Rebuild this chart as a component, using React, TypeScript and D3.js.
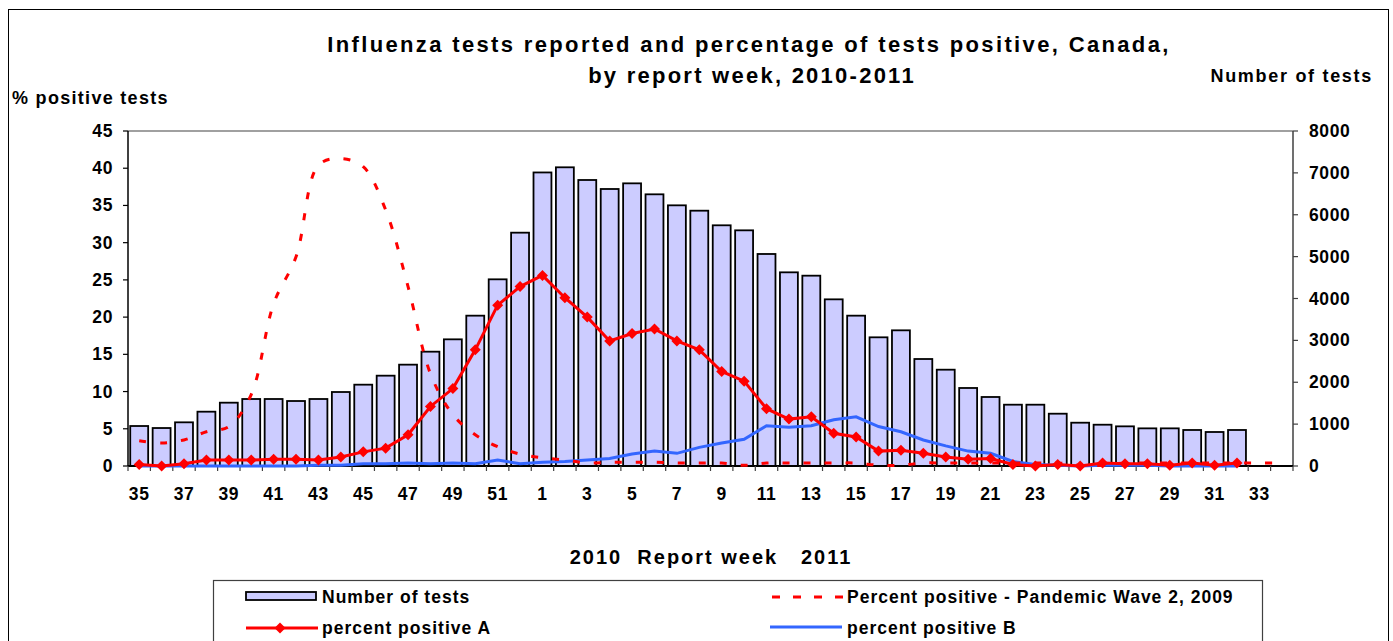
import React, { Component } from "react";
import * as d3 from "d3";

// report weeks, 2010 (35-52) then 2011 (1-34)
const weeks = ["35", "36", "37", "38", "39", "40", "41", "42", "43", "44", "45", "46", "47", "48", "49", "50", "51", "52",
  "1", "2", "3", "4", "5", "6", "7", "8", "9", "10", "11", "12", "13", "14", "15", "16", "17", "18", "19", "20",
  "21", "22", "23", "24", "25", "26", "27", "28", "29", "30", "31", "32", "33", "34"];

// number of tests, weeks 35 .. 32
const numTests = [955, 907, 1043, 1297, 1512, 1600, 1600, 1552, 1600, 1767, 1942, 2157, 2420, 2730, 3025, 3590, 4458, 5572,
  7010, 7133, 6830, 6615, 6750, 6488, 6225, 6097, 5748, 5628, 5063, 4625, 4545, 3980, 3590, 3073, 3240, 2555,
  2300, 1863, 1648, 1464, 1464, 1249, 1034, 986, 947, 899, 899, 860, 812, 860];

// percent positive A, weeks 35 .. 32
const pctA = [0.2, 0.0, 0.3, 0.8, 0.8, 0.8, 0.9, 0.9, 0.8, 1.2, 1.9, 2.4, 4.2, 8.0, 10.4, 15.6, 21.6, 24.1,
  25.6, 22.6, 20.0, 16.8, 17.8, 18.4, 16.8, 15.6, 12.7, 11.4, 7.7, 6.3, 6.6, 4.4, 3.9, 2.0, 2.1, 1.7,
  1.2, 0.9, 1.0, 0.2, 0.0, 0.2, 0.0, 0.4, 0.3, 0.3, 0.1, 0.4, 0.1, 0.4];

// percent positive B, weeks 35 .. 32
const pctB = [0.0, 0.0, 0.0, 0.0, 0.0, 0.0, 0.0, 0.0, 0.1, 0.1, 0.3, 0.3, 0.4, 0.3, 0.4, 0.3, 0.8, 0.3,
  0.5, 0.6, 0.8, 1.0, 1.6, 2.0, 1.7, 2.5, 3.1, 3.6, 5.4, 5.2, 5.4, 6.2, 6.6, 5.3, 4.6, 3.5,
  2.7, 2.0, 1.7, 0.6, 0.2, 0.1, 0.0, 0.1, 0.1, 0.1, 0.0, 0.0, 0.0, 0.0];

// percent positive, pandemic wave 2 (2009), weeks 35 .. 34
const pctPandemic = [3.4, 3.1, 3.5, 4.6, 5.3, 9.6, 21.8, 28.1, 40.4, 41.3, 40.2, 34.4, 24.1, 12.4, 6.9, 4.2, 2.6, 1.6,
  1.1, 0.8, 0.4, 0.5, 0.5, 0.5, 0.4, 0.4, 0.4, 0.1, 0.4, 0.4, 0.4, 0.4, 0.4, 0.1, 0.1, 0.4,
  0.4, 0.4, 0.4, 0.4, 0.4, 0.4, 0.1, 0.1, 0.4, 0.4, 0.4, 0.4, 0.4, 0.4, 0.4, 0.4];

const leftTicks = [0, 5, 10, 15, 20, 25, 30, 35, 40, 45];
const rightTicks = [0, 1000, 2000, 3000, 4000, 5000, 6000, 7000, 8000];

const FONT = "'Liberation Sans', Arial, sans-serif";

class App extends Component {
  svgRef = React.createRef<SVGSVGElement>();

  componentDidMount() {
    this.renderChart();
  }

  renderChart() {
    const svg = d3.select(this.svgRef.current);
    svg.selectAll("*").remove();

    const left = 128, right = 1293, top = 131, bottom = 466;

    const x = d3.scaleBand().domain(weeks).range([left, right]).paddingInner(0.2).paddingOuter(0.1);
    const yL = d3.scaleLinear().domain([0, 45]).range([bottom, top]);
    const yR = d3.scaleLinear().domain([0, 8000]).range([bottom, top]);
    const cx = (i) => x(weeks[i]) + x.bandwidth() / 2;

    const txt = (g, s, xx, yy, size, anchor = "start", spacing = 1) =>
      g.append("text").attr("x", xx).attr("y", yy).attr("font-family", FONT).attr("font-weight", "bold")
        .attr("font-size", size).attr("letter-spacing", spacing).attr("text-anchor", anchor).attr("fill", "#000").text(s);

    // outer border
    svg.append("rect").attr("x", 8.5).attr("y", 9.5).attr("width", 1380).attr("height", 700)
      .attr("fill", "white").attr("stroke", "#000").attr("stroke-width", 1);

    // titles
    txt(svg, "Influenza tests reported and percentage of tests positive, Canada,", 749, 52, 22, "middle", 2.35);
    txt(svg, "by report week, 2010-2011", 752, 83, 22, "middle", 2.25);
    txt(svg, "% positive tests", 12, 104, 18, "start", 1.3);
    txt(svg, "Number of tests", 1373, 82, 18, "end", 1.7);

    // plot frame
    svg.append("line").attr("x1", left).attr("x2", right).attr("y1", top).attr("y2", top)
      .attr("stroke", "#808080").attr("stroke-width", 1.5);

    // bars
    svg.selectAll(".bar").data(numTests).join("rect").attr("class", "bar")
      .attr("x", (d, i) => x(weeks[i]))
      .attr("y", (d) => yR(d))
      .attr("width", x.bandwidth())
      .attr("height", (d) => bottom - yR(d))
      .attr("fill", "#CCCCFF").attr("stroke", "#000").attr("stroke-width", 1.8);

    // left axis
    svg.append("line").attr("x1", left).attr("x2", left).attr("y1", top).attr("y2", bottom)
      .attr("stroke", "#000").attr("stroke-width", 1.5);
    leftTicks.forEach((t) => {
      svg.append("line").attr("x1", left - 5).attr("x2", left).attr("y1", yL(t)).attr("y2", yL(t))
        .attr("stroke", "#000").attr("stroke-width", 1.2);
      txt(svg, String(t), 113, yL(t) + 6, 17.5, "end", 0.6);
    });

    // right axis
    svg.append("line").attr("x1", right).attr("x2", right).attr("y1", top).attr("y2", bottom)
      .attr("stroke", "#404040").attr("stroke-width", 1.5);
    rightTicks.forEach((t) => {
      svg.append("line").attr("x1", right).attr("x2", right + 5).attr("y1", yR(t)).attr("y2", yR(t))
        .attr("stroke", "#404040").attr("stroke-width", 1.2);
      txt(svg, String(t), 1309, yR(t) + 6, 17.5, "start", 0.6);
    });

    // x axis
    const step = x.step();
    svg.append("line").attr("x1", left).attr("x2", right).attr("y1", bottom).attr("y2", bottom)
      .attr("stroke", "#000").attr("stroke-width", 1.8);
    d3.range(weeks.length + 1).forEach((i) => {
      const xx = left + i * step;
      svg.append("line").attr("x1", xx).attr("x2", xx).attr("y1", bottom).attr("y2", bottom + 5)
        .attr("stroke", "#404040").attr("stroke-width", 1.2);
    });
    weeks.forEach((w, i) => {
      if (i % 2 === 0) txt(svg, w, cx(i), 500, 17.5, "middle", 0.6);
    });
    txt(svg, "2010  Report week   2011", 711, 564, 20, "middle", 2).style("white-space", "pre");

    // lines
    const lineB = d3.line<number>().x((d, i) => cx(i)).y((d) => yL(d));
    svg.append("path").attr("d", lineB(pctB)).attr("fill", "none").attr("stroke", "#3366FF").attr("stroke-width", 3);

    const lineP = d3.line<number>().x((d, i) => cx(i)).y((d) => yL(d)).curve(d3.curveCatmullRom.alpha(0.5));
    svg.append("path").attr("d", lineP(pctPandemic)).attr("fill", "none").attr("stroke", "#FF0000")
      .attr("stroke-width", 3).attr("stroke-dasharray", "7,14");

    const lineA = d3.line<number>().x((d, i) => cx(i)).y((d) => yL(d));
    svg.append("path").attr("d", lineA(pctA)).attr("fill", "none").attr("stroke", "#FF0000").attr("stroke-width", 3);
    const diamond = "M0,-5.5L5.5,0L0,5.5L-5.5,0Z";
    svg.selectAll(".dia").data(pctA).join("path").attr("class", "dia")
      .attr("d", diamond)
      .attr("transform", (d, i) => `translate(${cx(i)},${yL(d)})`)
      .attr("fill", "#FF0000");

    // legend
    svg.append("rect").attr("x", 213.5).attr("y", 580.5).attr("width", 1049).attr("height", 100)
      .attr("fill", "white").attr("stroke", "#404040").attr("stroke-width", 1.2);
    svg.append("rect").attr("x", 246).attr("y", 592).attr("width", 70).attr("height", 8)
      .attr("fill", "#CCCCFF").attr("stroke", "#000").attr("stroke-width", 1.8);
    txt(svg, "Number of tests", 322, 603, 17.5);
    svg.append("line").attr("x1", 246).attr("x2", 318).attr("y1", 628).attr("y2", 628)
      .attr("stroke", "#FF0000").attr("stroke-width", 3);
    svg.append("path").attr("d", diamond).attr("transform", "translate(280,628)").attr("fill", "#FF0000");
    txt(svg, "percent positive A", 322, 634, 17.5);
    svg.append("line").attr("x1", 772).attr("x2", 843).attr("y1", 597).attr("y2", 597)
      .attr("stroke", "#FF0000").attr("stroke-width", 3).attr("stroke-dasharray", "8,13");
    txt(svg, "Percent positive - Pandemic Wave 2, 2009", 847, 603, 17.5);
    svg.append("line").attr("x1", 770).attr("x2", 842).attr("y1", 627).attr("y2", 627)
      .attr("stroke", "#3366FF").attr("stroke-width", 3);
    txt(svg, "percent positive B", 847, 634, 17.5);
  }

  render() {
    return (
      <svg ref={this.svgRef} width={1393} height={641}
        style={{ position: "absolute", left: 0, top: 0, background: "white" }} />
    );
  }
}

export default App;
